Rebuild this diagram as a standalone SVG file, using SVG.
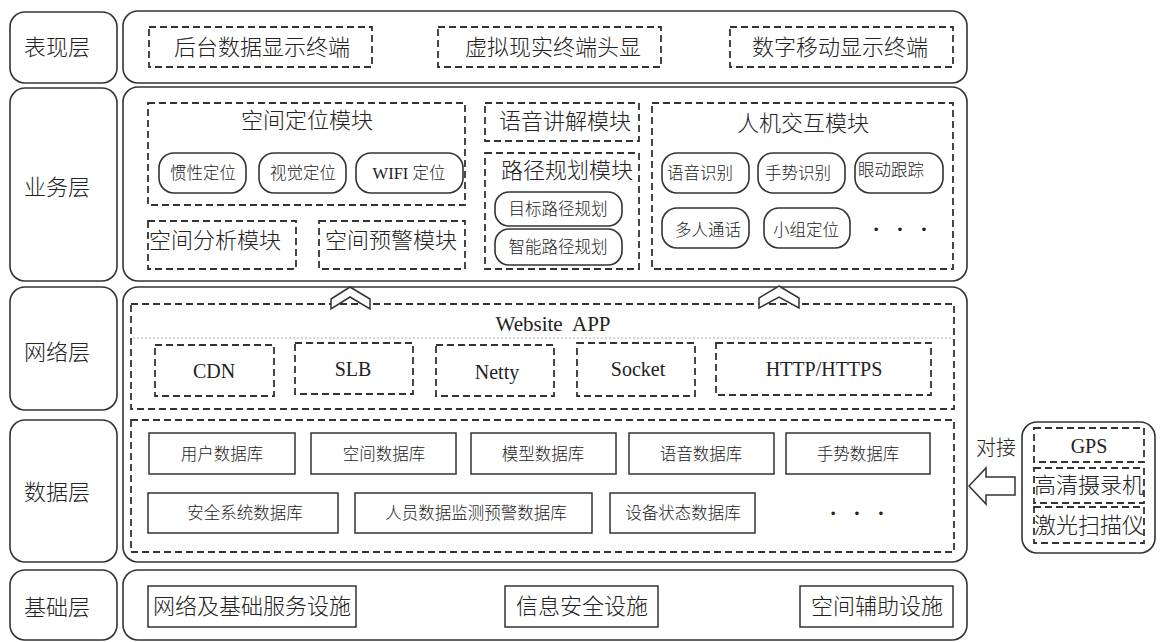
<svg xmlns="http://www.w3.org/2000/svg" width="1161" height="642" viewBox="0 0 1161 642">
<style>
.box{fill:#fff;stroke:#333;stroke-width:1.6}
.sq{fill:#fff;stroke:#333;stroke-width:1.5}
.dash{fill:none;stroke:#333;stroke-width:1.8;stroke-dasharray:7 4}
.dot{fill:none;stroke:#999;stroke-width:0.8;stroke-dasharray:2 2}
.t{font-family:"Liberation Serif","Noto Sans CJK SC",serif;font-weight:300;fill:#222;text-anchor:middle;dominant-baseline:central}
.s22{font-size:22px}
.s20{font-size:20px}
.s17{font-size:16.5px}
.l{text-anchor:start}
.dots{font-size:22px;white-space:pre;font-weight:700}
.conn{fill:#fff;stroke:#333;stroke-width:1.5;stroke-linejoin:miter}
</style>
<rect width="1161" height="642" fill="#fff"/>

<g id="layer-labels">
  <g id="label-biaoxian"><rect class="box" x="10" y="12" width="107" height="71" rx="15"/><text class="t s22" x="57" y="47">表现层</text></g>
  <g id="label-yewu"><rect class="box" x="10" y="88" width="107" height="193" rx="15"/><text class="t s22" x="57" y="187">业务层</text></g>
  <g id="label-wangluo"><rect class="box" x="10" y="287" width="107" height="123" rx="15"/><text class="t s22" x="57" y="352">网络层</text></g>
  <g id="label-shuju"><rect class="box" x="10" y="420" width="107" height="142" rx="15"/><text class="t s22" x="57" y="492">数据层</text></g>
  <g id="label-jichu"><rect class="box" x="10" y="570" width="107" height="70" rx="15"/><text class="t s22" x="57" y="607">基础层</text></g>
</g>

<g id="panel-biaoxian">
  <rect class="box" x="123" y="11" width="844" height="72" rx="15"/>
  <g id="n-houtai"><rect class="dash" x="149" y="27" width="223" height="40"/><text class="t s22" x="262" y="47">后台数据显示终端</text></g>
  <g id="n-xuni"><rect class="dash" x="438" y="27" width="223" height="40"/><text class="t s22" x="553" y="47">虚拟现实终端头显</text></g>
  <g id="n-shuzi"><rect class="dash" x="730" y="27" width="223" height="40"/><text class="t s22" x="840" y="47">数字移动显示终端</text></g>
</g>

<g id="panel-yewu">
  <rect class="box" x="123" y="87" width="844" height="194" rx="15"/>
  <g id="n-kongjiandingwei">
    <rect class="dash" x="148" y="103" width="317" height="102"/>
    <text class="t s22" x="307" y="120">空间定位模块</text>
    <g id="n-guanxing"><rect class="box" x="159" y="153" width="87" height="40" rx="15"/><text class="t s17" x="203" y="173">惯性定位</text></g>
    <g id="n-shijue"><rect class="box" x="259" y="153" width="87" height="40" rx="15"/><text class="t s17" x="303" y="173">视觉定位</text></g>
    <g id="n-wifi"><rect class="box" x="356" y="153" width="107" height="40" rx="15"/><text class="t s17" x="409" y="173">WIFI 定位</text></g>
  </g>
  <g id="n-fenxi"><rect class="dash" x="148" y="221" width="148" height="48"/><text class="t s22 l" x="149" y="240">空间分析模块</text></g>
  <g id="n-yujing"><rect class="dash" x="319" y="221" width="146" height="48"/><text class="t s22 l" x="325" y="240">空间预警模块</text></g>
  <g id="n-yuyinjiangjie"><rect class="dash" x="485" y="103" width="154" height="38"/><text class="t s22" x="565" y="121">语音讲解模块</text></g>
  <g id="n-lujing">
    <rect class="dash" x="485" y="153" width="154" height="116"/>
    <text class="t s22" x="567" y="170">路径规划模块</text>
    <g id="n-mubiao"><rect class="box" x="495" y="192" width="127" height="34" rx="14"/><text class="t s17" x="558" y="209">目标路径规划</text></g>
    <g id="n-zhineng"><rect class="box" x="495" y="229" width="127" height="36" rx="14"/><text class="t s17" x="558" y="247">智能路径规划</text></g>
  </g>
  <g id="n-renji">
    <rect class="dash" x="652" y="103" width="301" height="166"/>
    <text class="t s22" x="803" y="123">人机交互模块</text>
    <g id="n-yuyinshibie"><rect class="box" x="662" y="153" width="87" height="40" rx="15"/><text class="t s17" x="700" y="173">语音识别</text></g>
    <g id="n-shoushi"><rect class="box" x="758" y="153" width="87" height="40" rx="15"/><text class="t s17" x="798" y="173">手势识别</text></g>
    <g id="n-yandong"><rect class="box" x="855" y="153" width="88" height="40" rx="15"/><text class="t s17" x="891" y="170">眼动跟踪</text></g>
    <g id="n-duoren"><rect class="box" x="662" y="208" width="87" height="40" rx="15"/><text class="t s17" x="708" y="230">多人通话</text></g>
    <g id="n-xiaozu"><rect class="box" x="764" y="208" width="86" height="40" rx="15"/><text class="t s17" x="806" y="230">小组定位</text></g>
    <text class="t dots" x="900" y="228" xml:space="preserve">·   ·   ·</text>
  </g>
</g>

<g id="panel-wangluo-shuju">
  <rect class="box" x="123" y="287" width="844" height="275" rx="15"/>
  <g id="n-website">
    <rect class="dash" x="131" y="304" width="823" height="105"/>
    <line class="dot" x1="133" y1="338" x2="952" y2="338"/>
    <text class="t s20" x="553" y="324" xml:space="preserve" style="white-space:pre;font-size:21px">Website  APP</text>
    <g id="n-cdn"><rect class="dash" x="155" y="345" width="119" height="51"/><text class="t s20" x="214" y="371">CDN</text></g>
    <g id="n-slb"><rect class="dash" x="295" y="343" width="118" height="51"/><text class="t s20" x="353" y="369">SLB</text></g>
    <g id="n-netty"><rect class="dash" x="436" y="345" width="118" height="51"/><text class="t s20" x="497" y="372">Netty</text></g>
    <g id="n-socket"><rect class="dash" x="577" y="343" width="118" height="53"/><text class="t s20" x="638" y="369">Socket</text></g>
    <g id="n-http"><rect class="dash" x="716" y="343" width="215" height="52"/><text class="t s20" x="824" y="369">HTTP/HTTPS</text></g>
  </g>
  <g id="n-data">
    <rect class="dash" x="131" y="420" width="823" height="132"/>
    <g id="n-yonghu"><rect class="sq" x="149" y="433" width="146" height="41"/><text class="t s17" x="222" y="454">用户数据库</text></g>
    <g id="n-kongjiandb"><rect class="sq" x="311" y="433" width="145" height="41"/><text class="t s17" x="384" y="454">空间数据库</text></g>
    <g id="n-moxing"><rect class="sq" x="471" y="433" width="145" height="41"/><text class="t s17" x="543" y="454">模型数据库</text></g>
    <g id="n-yuyindb"><rect class="sq" x="629" y="433" width="145" height="41"/><text class="t s17" x="701" y="454">语音数据库</text></g>
    <g id="n-shoushidb"><rect class="sq" x="786" y="433" width="144" height="41"/><text class="t s17" x="858" y="454">手势数据库</text></g>
    <g id="n-anquan"><rect class="sq" x="148" y="493" width="190" height="40"/><text class="t s17" x="245" y="513">安全系统数据库</text></g>
    <g id="n-renyuan"><rect class="sq" x="355" y="493" width="237" height="40"/><text class="t s17" x="476" y="513">人员数据监测预警数据库</text></g>
    <g id="n-shebei"><rect class="sq" x="610" y="493" width="145" height="40"/><text class="t s17" x="683" y="513">设备状态数据库</text></g>
    <text class="t dots" x="857" y="512" xml:space="preserve">·   ·   ·</text>
  </g>
</g>

<g id="panel-jichu">
  <rect class="box" x="123" y="570" width="844" height="70" rx="15"/>
  <g id="n-wangluojichu"><rect class="sq" x="148" y="586" width="208" height="41"/><text class="t s22" x="252" y="606">网络及基础服务设施</text></g>
  <g id="n-xinxi"><rect class="sq" x="505" y="586" width="153" height="41"/><text class="t s22" x="582" y="606">信息安全设施</text></g>
  <g id="n-fuzhu"><rect class="sq" x="800" y="586" width="153" height="41"/><text class="t s22" x="877" y="606">空间辅助设施</text></g>
</g>

<g id="external">
  <rect class="box" x="1022" y="422" width="133" height="131" rx="15"/>
  <g id="n-gps"><rect class="dash" x="1034" y="428" width="110" height="34"/><text class="t s20" x="1089" y="446">GPS</text></g>
  <g id="n-gaoqing"><rect class="dash" x="1034" y="468" width="110" height="35"/><text class="t s22" x="1089" y="485">高清摄录机</text></g>
  <g id="n-jiguang"><rect class="dash" x="1034" y="507" width="110" height="36"/><text class="t s22" x="1089" y="525">激光扫描仪</text></g>
</g>

<g id="connectors">
  <polygon class="conn" points="350,287 370,299 370,309 350,297 331,309 331,299"/>
  <polygon class="conn" points="779,286 799,298 799,308 779,297 759,308 759,298"/>
  <polygon class="conn" points="969,486 986,468 986,477 1015,477 1015,495 986,495 986,504"/>
  <text class="t s20" x="996" y="448">对接</text>
</g>
</svg>
